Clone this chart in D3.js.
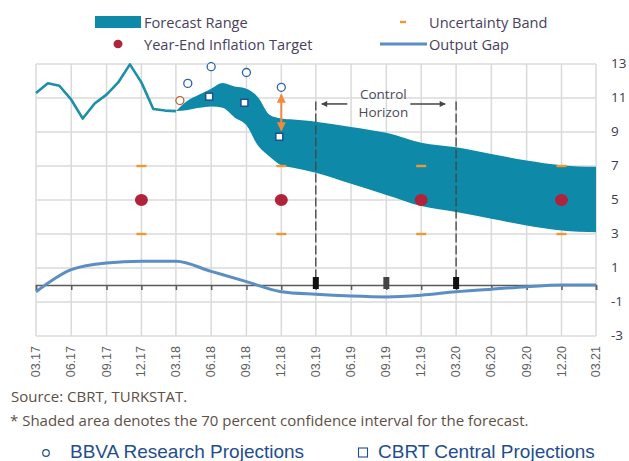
<!DOCTYPE html>
<html>
<head>
<meta charset="utf-8">
<script src="https://cdn.jsdelivr.net/npm/d3@7"></script>
<style>
  body { margin: 0; background: #fff; }
  svg { display: block; }
</style>
</head>
<body>
<svg id="chart" width="629" height="461"></svg>
<script>
// Inflation forecast chart (CBRT, 2018-II)
const tickLabels = ["03.17","06.17","09.17","12.17","03.18","06.18","09.18","12.18","03.19","06.19","09.19","12.19","03.20","06.20","09.20","12.20","03.21"];
const yTicks = [13, 11, 9, 7, 5, 3, 1, -1, -3];

// actual CPI inflation (monthly)
const actualMonths = ["03.17","04.17","05.17","06.17","07.17","08.17","09.17","10.17","11.17","12.17","01.18","02.18","03.18"];
const actualValues = [11.29, 11.87, 11.72, 10.90, 9.79, 10.68, 11.20, 11.90, 12.98, 11.92, 10.35, 10.26, 10.23];

// forecast range
const bandPeriods = ["03.18","04.18","05.18","06.18","07.18","08.18","09.18","10.18","11.18","12.18","01.19","02.19","03.19","06.19","09.19","12.19","03.20","06.20","09.20","12.20","03.21"];
const bandUpper = [10.23, 10.85, 11.2, 11.55, 11.88, 11.67, 11.55, 11.05, 10.0, 9.8, 9.74, 9.67, 9.6, 9.3, 8.95, 8.37, 8.1, 7.7, 7.33, 7.05, 6.95];
const bandLower = [10.23, 10.3, 10.42, 10.5, 10.42, 9.86, 9.4, 8.2, 7.55, 7.05, 6.9, 6.75, 6.6, 5.95, 5.3, 4.65, 4.3, 3.9, 3.5, 3.2, 3.1];

// output gap (quarterly)
const gapPeriods = tickLabels;
const gapValues = [-0.4, 0.9, 1.3, 1.4, 1.4, 0.8, 0.2, -0.4, -0.55, -0.65, -0.7, -0.6, -0.4, -0.25, -0.1, 0, 0];

// year-end targets and uncertainty band
const targetPeriods = ["12.17","12.18","12.19","12.20"];
const targetValues = [5, 5, 5, 5];
const uncertaintyLow = [3, 3, 3, 3];
const uncertaintyHigh = [7, 7, 7, 7];

// projections
const bbvaPeriods = ["03.18","04.18","06.18","09.18","12.18"];
const bbvaValues = [10.85, 11.86, 12.84, 12.5, 11.63];
const cbrtPeriods = ["06.18","09.18","12.18"];
const cbrtValues = [11.08, 10.72, 8.72];

const parse = d3.timeParse("%m.%y");
const C = {
  band: "#0e8aa8", actual: "#1d8fab", gap: "#5b8ec2", target: "#b1233a",
  unc: "#e99a35", bbva: "#2a64ad", bbvaFirst: "#b9622b", cbrt: "#1f4e8c",
  grid: "#dadada", axis: "#5a5a5a", text: "#48425e", arrow: "#f08a3c", note: "#5e5046"
};

const svg = d3.select("#chart");
const x = d3.scaleTime().domain([parse("03.17"), parse("03.21")]).range([36, 596]);
const y = d3.scaleLinear().domain([-3, 13]).range([336, 64]);

// grid
const g = svg.append("g");
g.selectAll(".vg").data(tickLabels).join("line")
  .attr("x1", d => x(parse(d))).attr("x2", d => x(parse(d)))
  .attr("y1", y(13)).attr("y2", y(-3))
  .attr("stroke", C.grid).attr("stroke-width", 1.5);
g.selectAll(".hg").data(yTicks).join("line")
  .attr("x1", x.range()[0]).attr("x2", x.range()[1])
  .attr("y1", d => y(d)).attr("y2", d => y(d))
  .attr("stroke", C.grid).attr("stroke-width", 1.5);

// y labels (right)
svg.append("g").selectAll("text").data(yTicks).join("text")
  .attr("x", 611).attr("y", d => y(d) - 1)
  .attr("dominant-baseline", "central")
  .attr("font-family", "Open Sans, sans-serif").attr("font-size", 13.5)
  .attr("fill", "#3c3c4c").text(d => d);

// x labels
svg.append("g").selectAll("text").data(tickLabels).join("text")
  .attr("transform", d => `translate(${x(parse(d))},346) rotate(-90)`)
  .attr("text-anchor", "end").attr("dominant-baseline", "central")
  .attr("font-family", "Liberation Sans, Arial, sans-serif").attr("font-size", 12.5)
  .attr("fill", "#606060").text(d => d);

// forecast band
const bandData = bandPeriods.map((p, i) => ({ date: parse(p), lo: bandLower[i], hi: bandUpper[i] }));
svg.append("path").datum(bandData)
  .attr("fill", C.band)
  .attr("d", d3.area().curve(d3.curveMonotoneX).x(d => x(d.date)).y0(d => y(d.lo)).y1(d => y(d.hi)));

// actual inflation
const actualData = actualMonths.map((p, i) => ({ date: parse(p), v: actualValues[i] }));
svg.append("path").datum(actualData)
  .attr("fill", "none").attr("stroke", C.actual).attr("stroke-width", 2.6).attr("stroke-linejoin", "round")
  .attr("d", d3.line().x(d => x(d.date)).y(d => y(d.v)));

// x axis at zero
const axis = d3.axisBottom(x).tickValues(tickLabels.map(parse)).tickSize(5).tickFormat("");
const axG = svg.append("g").attr("transform", `translate(0,${y(0)})`).call(axis);
axG.select(".domain").attr("stroke", C.axis).attr("stroke-width", 1.5);
axG.selectAll(".tick line").attr("stroke", C.axis).attr("stroke-width", 1.5);

// output gap
const gapData = gapPeriods.map((p, i) => ({ date: parse(p), v: gapValues[i] }));
svg.append("path").datum(gapData)
  .attr("fill", "none").attr("stroke", C.gap).attr("stroke-width", 3).attr("stroke-linejoin", "round")
  .attr("d", d3.line().curve(d3.curveMonotoneX).x(d => x(d.date)).y(d => y(d.v)));

// control horizon
const chStart = parse("03.19"), chEnd = parse("03.20"), chMid = parse("09.19");
[chStart, chEnd].forEach(d => {
  svg.append("line").attr("x1", x(d)).attr("x2", x(d)).attr("y1", y(10.8)).attr("y2", y(0))
    .attr("stroke", "#444").attr("stroke-width", 1.3).attr("stroke-dasharray", "9,3");
});
[chStart, chMid, chEnd].forEach((d, i) => {
  svg.append("rect").attr("x", x(d) - 3).attr("y", y(0) - 8).attr("width", 6).attr("height", 12)
    .attr("fill", i === 1 ? "#444" : "#111");
});
const defs = svg.append("defs");
defs.append("marker").attr("id", "ah").attr("viewBox", "0 0 10 10").attr("refX", 9).attr("refY", 5)
  .attr("markerWidth", 8).attr("markerHeight", 6).attr("markerUnits", "userSpaceOnUse").attr("orient", "auto")
  .append("path").attr("d", "M0,0L10,5L0,10Z").attr("fill", "#444");
const cx = x(chMid) - 3;
svg.append("line").attr("x1", cx - 36).attr("x2", x(chStart) + 6).attr("y1", y(10.65)).attr("y2", y(10.65))
  .attr("stroke", "#444").attr("stroke-width", 1.5).attr("marker-end", "url(#ah)");
svg.append("line").attr("x1", cx + 27).attr("x2", x(chEnd) - 11).attr("y1", y(10.65)).attr("y2", y(10.65))
  .attr("stroke", "#444").attr("stroke-width", 1.5).attr("marker-end", "url(#ah)");
svg.append("text").attr("x", cx).attr("y", 94).attr("text-anchor", "middle").attr("dominant-baseline", "central")
  .attr("font-family", "Open Sans, sans-serif").attr("font-size", 13.5).attr("fill", "#4a4a5a").text("Control");
svg.append("text").attr("x", cx).attr("y", 112).attr("text-anchor", "middle").attr("dominant-baseline", "central")
  .attr("font-family", "Open Sans, sans-serif").attr("font-size", 13.5).attr("fill", "#4a4a5a").text("Horizon");

// uncertainty band dashes
const unc = targetPeriods.flatMap((p, i) => [{ date: parse(p), v: uncertaintyLow[i] }, { date: parse(p), v: uncertaintyHigh[i] }]);
svg.append("g").selectAll("rect").data(unc).join("rect")
  .attr("x", d => x(d.date) - 5).attr("y", d => y(d.v) - 1.2).attr("width", 10).attr("height", 2.4)
  .attr("fill", C.unc);

// targets
svg.append("g").selectAll("ellipse").data(targetPeriods.map((p, i) => ({ date: parse(p), v: targetValues[i] })))
  .join("ellipse").attr("cx", d => x(d.date)).attr("cy", d => y(d.v)).attr("rx", 6.5).attr("ry", 6)
  .attr("fill", C.target);

// arrow between BBVA and CBRT end-2018
defs.append("marker").attr("id", "oh").attr("viewBox", "0 0 10 10").attr("refX", 9).attr("refY", 5)
  .attr("markerWidth", 9).attr("markerHeight", 11).attr("markerUnits", "userSpaceOnUse").attr("orient", "auto-start-reverse")
  .append("path").attr("d", "M0,0L10,5L0,10Z").attr("fill", C.arrow);
svg.append("line").attr("x1", x(parse("12.18"))).attr("x2", x(parse("12.18")))
  .attr("y1", y(11.2)).attr("y2", y(9.1))
  .attr("stroke", C.arrow).attr("stroke-width", 2)
  .attr("marker-start", "url(#oh)").attr("marker-end", "url(#oh)");

// BBVA projections
svg.append("g").selectAll("circle").data(bbvaPeriods.map((p, i) => ({ date: parse(p), v: bbvaValues[i], i })))
  .join("circle").attr("cx", d => x(d.date) + (d.i === 0 ? 4 : 0)).attr("cy", d => y(d.v)).attr("r", 4)
  .attr("fill", "#fff").attr("stroke", d => d.i === 0 ? C.bbvaFirst : C.bbva).attr("stroke-width", 1.3);

// CBRT projections
svg.append("g").selectAll("rect").data(cbrtPeriods.map((p, i) => ({ date: parse(p), v: cbrtValues[i] })))
  .join("rect").attr("x", d => x(d.date) - 5.5).attr("y", d => y(d.v) - 3.5).attr("width", 7).attr("height", 7)
  .attr("fill", "#fff").attr("stroke", C.cbrt).attr("stroke-width", 1.5);

// top legend
const legText = (tx, ty, s) => svg.append("text").attr("x", tx).attr("y", ty)
  .attr("dominant-baseline", "central").attr("font-family", "Open Sans, sans-serif")
  .attr("font-size", 14.6).attr("fill", C.text).text(s);
svg.append("rect").attr("x", 95).attr("y", 16).attr("width", 46).attr("height", 12).attr("fill", C.band);
legText(144, 22, "Forecast Range");
svg.append("rect").attr("x", 400).attr("y", 20.8).attr("width", 6).attr("height", 2.4).attr("fill", C.unc);
legText(429, 22, "Uncertainty Band");
svg.append("ellipse").attr("cx", 118).attr("cy", 44).attr("rx", 4.5).attr("ry", 4.2).attr("fill", C.target);
legText(144, 44, "Year-End Inflation Target");
svg.append("line").attr("x1", 380).attr("x2", 427).attr("y1", 44).attr("y2", 44).attr("stroke", C.gap).attr("stroke-width", 3);
legText(429, 44, "Output Gap");

// notes
svg.append("text").attr("x", 11).attr("y", 396).attr("dominant-baseline", "central")
  .attr("font-family", "Open Sans, sans-serif").attr("font-size", 15).attr("fill", C.note)
  .text("Source: CBRT, TURKSTAT.");
svg.append("text").attr("x", 10).attr("y", 420).attr("dominant-baseline", "central")
  .attr("font-family", "Open Sans, sans-serif").attr("font-size", 15).attr("fill", C.note)
  .text("* Shaded area denotes the 70 percent confidence interval for the forecast.");

// bottom legend
svg.append("circle").attr("cx", 46).attr("cy", 453).attr("r", 3.3).attr("fill", "#fff").attr("stroke", C.cbrt).attr("stroke-width", 1.2);
svg.append("text").attr("x", 70).attr("y", 451).attr("dominant-baseline", "central")
  .attr("font-family", "Liberation Sans, Arial, sans-serif").attr("font-size", 19).attr("fill", C.cbrt)
  .text("BBVA Research Projections");
svg.append("rect").attr("x", 358.5).attr("y", 448).attr("width", 9).attr("height", 9).attr("fill", "#fff").attr("stroke", C.cbrt).attr("stroke-width", 1.1);
svg.append("text").attr("x", 378).attr("y", 451).attr("dominant-baseline", "central")
  .attr("font-family", "Liberation Sans, Arial, sans-serif").attr("font-size", 19).attr("fill", C.cbrt)
  .text("CBRT Central Projections");
</script>
</body>
</html>
